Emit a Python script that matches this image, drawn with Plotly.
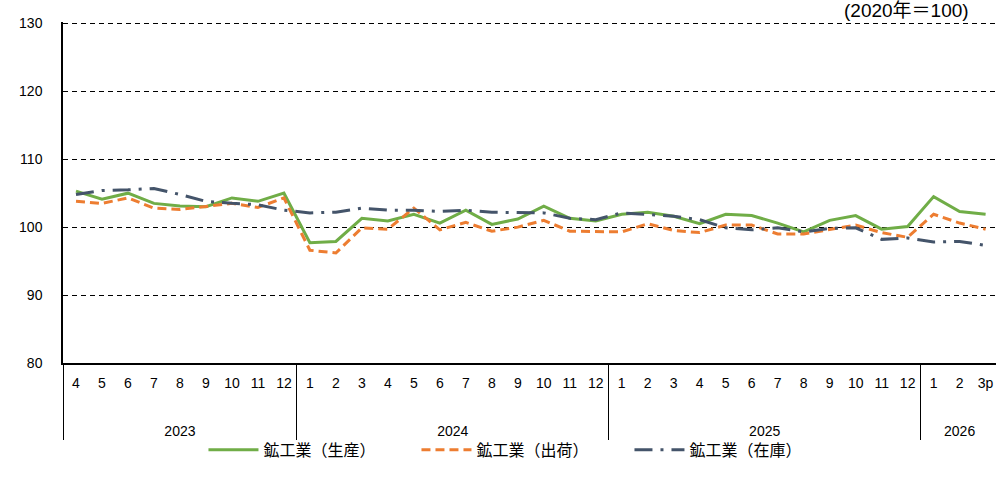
import plotly.graph_objects as go

years = ["2023"] * 9 + ["2024"] * 12 + ["2025"] * 12 + ["2026"] * 3
months = ["4", "5", "6", "7", "8", "9", "10", "11", "12",
          "1", "2", "3", "4", "5", "6", "7", "8", "9", "10", "11", "12",
          "1", "2", "3", "4", "5", "6", "7", "8", "9", "10", "11", "12",
          "1", "2", "3p"]

production = [105.3, 104.1, 105.0, 103.5, 103.1, 103.0, 104.3, 103.8, 105.0,
              97.7, 97.9, 101.3, 100.9, 101.9, 100.6, 102.5, 100.4, 101.2, 103.1, 101.3, 100.9,
              101.9, 102.2, 101.6, 100.5, 101.9, 101.7, 100.6, 99.3, 101.0, 101.7, 99.7, 100.1,
              104.5, 102.3, 101.9]
shipments = [103.8, 103.5, 104.3, 102.8, 102.6, 103.1, 103.5, 102.9, 104.3,
             96.6, 96.2, 99.9, 99.7, 102.8, 99.6, 100.7, 99.4, 100.0, 101.0, 99.4, 99.3,
             99.3, 100.5, 99.5, 99.2, 100.3, 100.3, 99.0, 99.0, 99.7, 100.3, 99.2, 98.5,
             101.9, 100.6, 99.7]
inventory = [104.8, 105.4, 105.5, 105.7, 104.8, 103.8, 103.5, 103.3, 102.5,
             102.1, 102.2, 102.8, 102.5, 102.5, 102.3, 102.5, 102.2, 102.2, 102.1, 101.3, 101.1,
             102.1, 101.9, 101.6, 101.1, 99.9, 99.6, 99.9, 99.3, 99.8, 99.9, 98.2, 98.4,
             97.8, 97.9, 97.3]

names = ["鉱工業（生産）", "鉱工業（出荷）", "鉱工業（在庫）"]
y_ticks = [80, 90, 100, 110, 120, 130]

# Plotly orders multicategory sub-labels by first appearance; tag the first
# year's month labels with an invisible zero-width space so months keep order.
ZW = "\u200b"
month_labels = [m + ZW if y == years[0] else m for y, m in zip(years, months)]
year_labels = ["<br><br>" + y for y in years]
x = [year_labels, month_labels]

fig = go.Figure()
fig.add_trace(go.Scatter(x=x, y=production, mode="lines", name=names[0],
                         line=dict(color="#70AD47", width=3)))
fig.add_trace(go.Scatter(x=x, y=shipments, mode="lines", name=names[1],
                         line=dict(color="#ED7D31", width=3, dash="9px,5px")))
fig.add_trace(go.Scatter(x=x, y=inventory, mode="lines", name=names[2],
                         line=dict(color="#44546A", width=3, dash="18px,8px,3px,8px")))

font_family = "Liberation Sans, Arial, sans-serif"
fig.update_layout(
    width=996, height=483,
    margin=dict(l=63, r=0, t=22, b=120),
    paper_bgcolor="white", plot_bgcolor="white",
    font=dict(family=font_family, size=14, color="#000000"),
    showlegend=True,
    legend=dict(orientation="h", x=0.493, xanchor="center", y=-0.255, yanchor="middle",
                bgcolor="rgba(0,0,0,0)",
                font=dict(family="Noto Sans CJK JP, sans-serif", size=16, color="#000000"),
                itemwidth=50, entrywidth=148, tracegroupgap=0),
    xaxis=dict(type="multicategory", range=[-0.5, 35.4],
               showline=True, linecolor="#000000", linewidth=1.5,
               showgrid=False, ticks="", ticklabelstandoff=6,
               showdividers=True, dividercolor="#000000", dividerwidth=1,
               tickfont=dict(family=font_family, size=14, color="#000000")),
    yaxis=dict(range=[80, 130.2], tickvals=y_ticks, showline=True, linecolor="#000000",
               linewidth=1.5, showgrid=True, gridcolor="#000000", gridwidth=1.2,
               griddash="5px,4px", zeroline=False, ticks="", ticklabelstandoff=16,
               tickfont=dict(family=font_family, size=14, color="#000000")),
    annotations=[dict(text="(2020年＝100)", xref="paper", yref="paper", x=0.973, y=1.035,
                      xanchor="right", yanchor="middle", showarrow=False,
                      font=dict(family="Liberation Sans, Noto Sans CJK JP, sans-serif",
                                size=19, color="#000000"))],
)

fig.write_html("out.html", config={"displayModeBar": False},
               post_script="document.body.style.margin='0';")
